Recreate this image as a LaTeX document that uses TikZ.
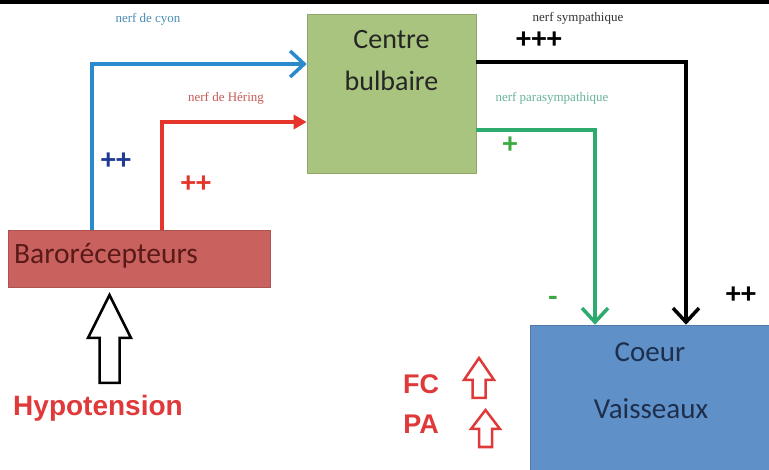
\documentclass[tikz,border=0pt]{standalone}
\usepackage{fontspec}
\setmainfont{Carlito}
\newfontfamily\lsans{Liberation Sans}
\newfontfamily\lserif{Liberation Serif}
\usetikzlibrary{arrows.meta}
\definecolor{centreg}{HTML}{A9C47F}
\definecolor{barored}{HTML}{C9625F}
\definecolor{barotext}{HTML}{5A1A18}
\definecolor{coeurb}{HTML}{5F90C7}
\definecolor{coeurtext}{HTML}{1E2F4E}
\definecolor{cyonc}{HTML}{2B8ACB}
\definecolor{heringc}{HTML}{E5352A}
\definecolor{parac}{HTML}{2DAA6E}
\definecolor{darkblue}{HTML}{1F3A93}
\definecolor{plusgreen}{HTML}{3AAA40}
\definecolor{hypored}{HTML}{E0393A}
\definecolor{cyonlab}{HTML}{4A8DB5}
\definecolor{heringlab}{HTML}{C65A55}
\definecolor{paralab}{HTML}{6BB39A}
\begin{document}
\begin{tikzpicture}[x=1pt,y=-1pt,
  box/.style={draw=#1!85!black, line width=0.6pt, fill=#1, inner sep=0pt},
  boxtext/.style={font=\fontsize{28}{30}\selectfont, inner sep=0pt},
  bigboxtext/.style={font=\fontsize{29.5}{31}\selectfont, inner sep=0pt},
  nervelab/.style={font=\lserif\fontsize{13}{15}\selectfont, inner sep=0pt},
  sign/.style={font=\bfseries\fontsize{30}{32}\selectfont, inner sep=0pt},
  nerve/.style={line width=4pt},
  barb/.style={-{Straight Barb[length=14pt,width=26pt,line width=3.5pt]}},
  hollow/.style={draw=black, line width=2.5pt, fill=white, line join=miter},
  smallhollow/.style={draw=hypored, line width=2.5pt, fill=white, line join=miter},
  redbold/.style={font=\lsans\bfseries\fontsize{27}{29}\selectfont, text=hypored, inner sep=0pt}
]
\useasboundingbox (0,0) rectangle (769,470);
\fill[white] (0,0) rectangle (769,470);
\fill[black] (0,0) rectangle (769,4);

% boxes
\node[box=centreg, minimum width=169pt, minimum height=159pt] (centre) at (391.5,93.5) {};
\node[boxtext, text=black!85] (centreA) at (391.5,40) {Centre};
\node[boxtext, text=black!85] (centreB) at (391.5,81) {bulbaire};

\node[box=barored, minimum width=262pt, minimum height=57pt] (baro) at (139,258.5) {};
\node[bigboxtext, text=barotext, anchor=west] (barotxt) at (14,256) {Barorécepteurs};

\node[box=coeurb, minimum width=240pt, minimum height=146pt] (coeur) at (650,398) {};
\node[boxtext, text=coeurtext, font=\fontsize{29}{31}\selectfont] (coeurA) at (650,352) {Coeur};
\node[boxtext, text=coeurtext, font=\fontsize{29}{31}\selectfont] (coeurB) at (651,409) {Vaisseaux};

% helper coordinates
\coordinate (xcyon) at (92,0);
\coordinate (ycyon) at (0,64);
\coordinate (xher) at (162,0);
\coordinate (yher) at (0,122);
\coordinate (ysym) at (0,62);
\coordinate (xsym) at (686,0);
\coordinate (ypara) at (0,130);
\coordinate (xpara) at (595,0);

% afferent nerves
\draw[nerve, cyonc, barb] (baro.north -| xcyon) |- (centre.west |- ycyon);
\draw[nerve, heringc, -{Triangle[length=13pt,width=14pt]}] (baro.north -| xher) |- (centre.west |- yher);

% efferent nerves
\draw[nerve, black, barb] (centre.east |- ysym) -| (coeur.north -| xsym);
\draw[nerve, parac, barb] (centre.east |- ypara) -| (coeur.north -| xpara);

% nerve labels
\node[nervelab, text=cyonlab] (lcyon) at (148,19) {nerf de cyon};
\node[nervelab, text=heringlab] (lher) at (226,98) {nerf de Héring};
\node[nervelab, text=black!80] (lsym) at (578,18) {nerf sympathique};
\node[nervelab, text=paralab] (lpara) at (552,98) {nerf parasympathique};

% signs
\node[sign, text=black] (s1) at (539,40) {+++};
\node[sign, text=darkblue] (s2) at (116,161) {++};
\node[sign, text=heringc] (s3) at (196,184) {++};
\node[sign, text=plusgreen] (s4) at (510,145) {+};
\node[sign, text=plusgreen] (s5) at (553,301) {-};
\node[sign, text=black] (s6) at (741,295) {++};

% hypotension arrow
\draw[hollow] (99.5,383) -- (99.5,338) -- (88,338) -- (109.5,295) -- (131,338) -- (119.5,338) -- (119.5,383) -- cycle;
\node[font=\lsans\bfseries\fontsize{28}{30}\selectfont, text=hypored, inner sep=0pt] (hypo) at (98,408) {Hypotension};

% FC / PA
\node[redbold] (fc) at (421,384) {FC};
\node[redbold] (pa) at (421,424) {PA};
\draw[smallhollow] (472.5,398) -- (472.5,380) -- (464,380) -- (479,358) -- (494,380) -- (485.5,380) -- (485.5,398) -- cycle;
\draw[smallhollow] (479,447) -- (479,429) -- (471,429) -- (485.5,410) -- (500,429) -- (492,429) -- (492,447) -- cycle;
\end{tikzpicture}
\end{document}
